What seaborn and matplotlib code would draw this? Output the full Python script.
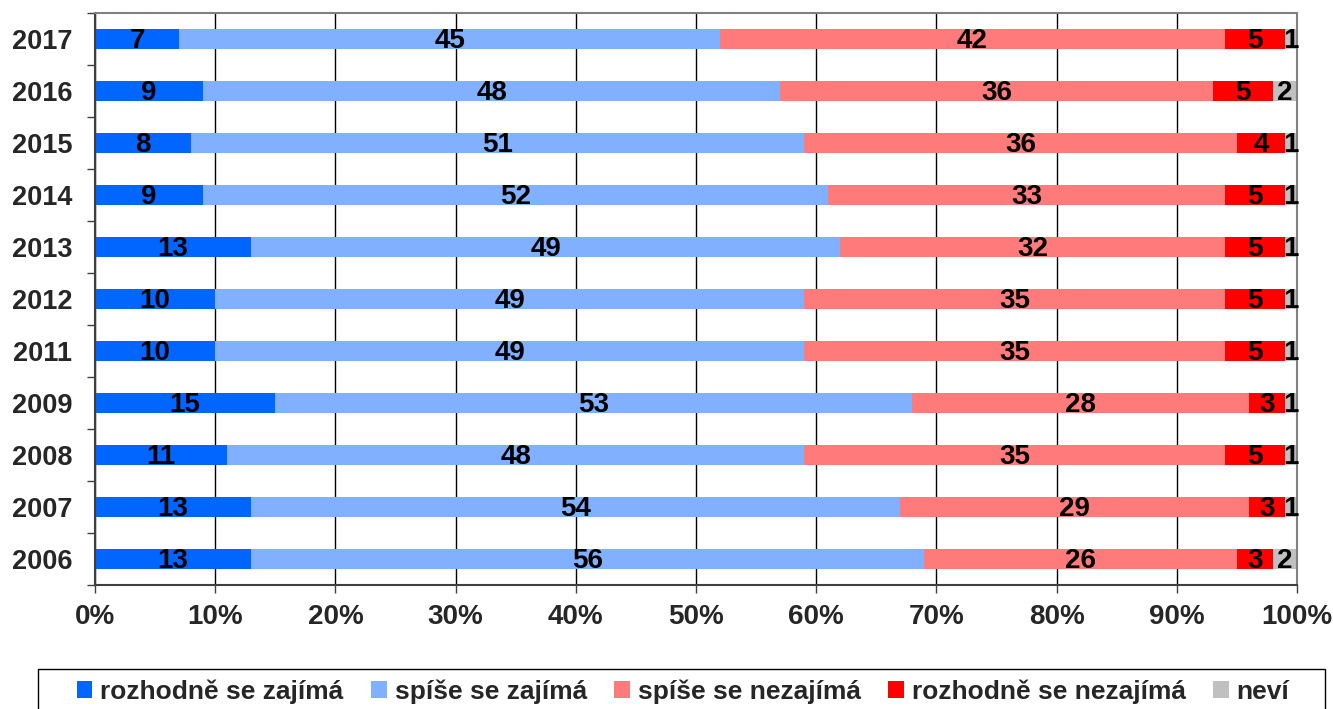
import numpy as np
import pandas as pd
import matplotlib
matplotlib.use("Agg")
import matplotlib.pyplot as plt
from matplotlib.patches import Patch, Rectangle
from matplotlib.ticker import FixedLocator, PercentFormatter
import seaborn as sns

years = ["2017", "2016", "2015", "2014", "2013", "2012", "2011", "2009", "2008", "2007", "2006"]
rozhodne_zajima = [7, 9, 8, 9, 13, 10, 10, 15, 11, 13, 13]
spise_zajima = [45, 48, 51, 52, 49, 49, 49, 53, 48, 54, 56]
spise_nezajima = [42, 36, 36, 33, 32, 35, 35, 28, 35, 29, 26]
rozhodne_nezajima = [5, 5, 4, 5, 5, 5, 5, 3, 5, 3, 3]
nevi = [1, 2, 1, 1, 1, 1, 1, 1, 1, 1, 2]

series_names = ["rozhodně se zajímá", "spíše se zajímá", "spíše se nezajímá",
                "rozhodně se nezajímá", "neví"]
colors = ["#0066FF", "#80B0FF", "#FF7B7B", "#FF0000", "#C0C0C0"]


def main():
    df = pd.DataFrame(
        [rozhodne_zajima, spise_zajima, spise_nezajima, rozhodne_nezajima, nevi],
        index=series_names, columns=years).T
    pct = df.div(df.sum(axis=1), axis=0) * 100
    cum = pct.cumsum(axis=1)

    sns.set_style("white")
    plt.rcParams["font.family"] = ["Liberation Sans", "DejaVu Sans"]
    plt.rcParams["font.weight"] = "bold"

    W, H = 1333, 709
    fig = plt.figure(figsize=(W / 100, H / 100), dpi=100)
    ax = fig.add_axes([95 / W, 1 - 585 / H, (1297 - 95) / W, (585 - 13) / H])

    # draw longest cumulative first so shorter segments sit on top
    for name, color in reversed(list(zip(series_names, colors))):
        plot_df = pd.DataFrame({"year": years, "val": cum[name].values})
        sns.barplot(data=plot_df, x="val", y="year", order=years, orient="h",
                    color=color, width=0.4, linewidth=0, saturation=1, ax=ax)

    for i, yr in enumerate(years):
        for name in series_names:
            v = df.loc[yr, name]
            mid = cum.loc[yr, name] - pct.loc[yr, name] / 2
            ax.text(mid, i + 0.04, str(v), ha="center", va="center",
                    fontsize=20, fontweight="bold", color="black")

    ax.set_xlim(0, 100)
    ax.set_ylim(len(years) - 0.5, -0.5)
    ax.xaxis.set_major_locator(FixedLocator(np.arange(0, 101, 10)))
    ax.xaxis.set_major_formatter(PercentFormatter(decimals=0))
    ax.set_axisbelow(True)
    ax.grid(axis="x", color="black", linewidth=1)
    ax.grid(axis="y", visible=False)
    ax.set_xlabel("")
    ax.set_ylabel("")

    ax.tick_params(axis="x", which="major", bottom=True, length=6, width=1,
                   color="#404040", labelsize=20, pad=8)
    ax.tick_params(axis="y", which="major", left=False, labelsize=19.5, pad=13)
    ax.yaxis.set_minor_locator(FixedLocator(np.arange(-0.5, len(years), 1)))
    ax.tick_params(axis="y", which="minor", left=True, length=6, width=1,
                   color="#404040")
    for lbl in ax.get_xticklabels() + ax.get_yticklabels():
        lbl.set_fontweight("bold")

    for side in ["top", "right"]:
        ax.spines[side].set_color("#808080")
        ax.spines[side].set_linewidth(1.5)
    for side in ["left", "bottom"]:
        ax.spines[side].set_color("#404040")
        ax.spines[side].set_linewidth(1.5)

    # legend box runs off the bottom edge like in the original
    fig.patches.append(Rectangle((38 / W, 1 - 718 / H), (1325 - 38) / W, (718 - 669) / H,
                                 transform=fig.transFigure, facecolor="white",
                                 edgecolor="black", linewidth=1))
    handles = [Patch(facecolor=c, edgecolor="none") for c in colors]
    fig.legend(handles, series_names, loc="upper left", ncol=5,
               bbox_to_anchor=(66 / W, 1 - 669 / H, (1300 - 66) / W, 0),
               mode="expand", frameon=False,
               prop={"size": 19, "weight": "bold"},
               handlelength=0.6, handleheight=0.6, handletextpad=0.3,
               borderpad=0.4, borderaxespad=0)

    fig.savefig("out.png", dpi=100)


if "__main__" == __name__:
    main()
